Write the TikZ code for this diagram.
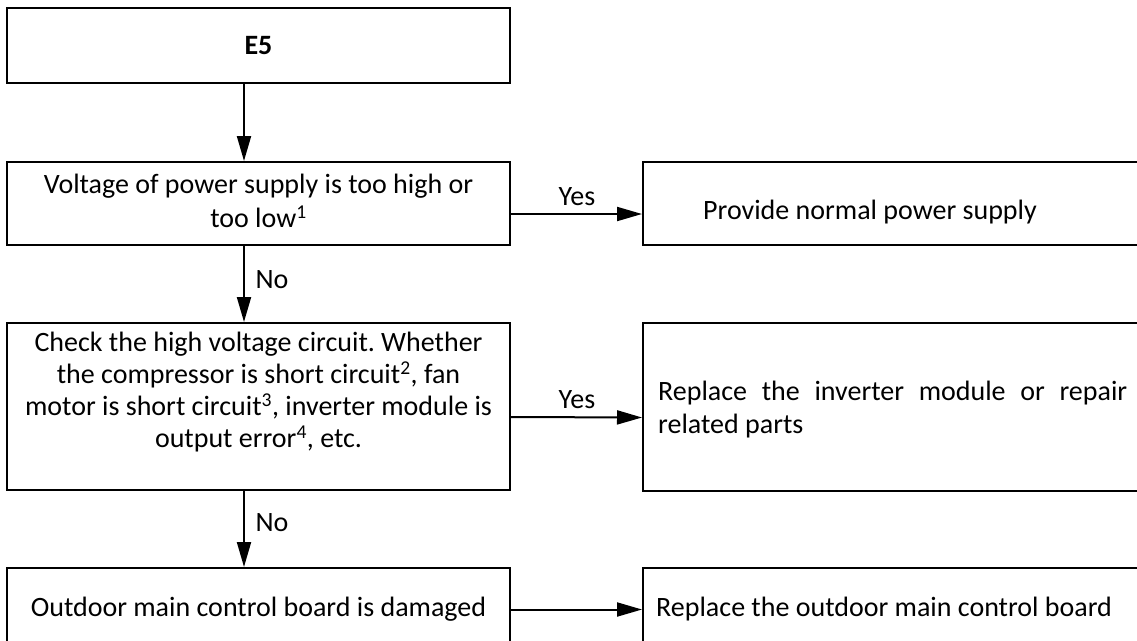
\documentclass[tikz,border=0pt]{standalone}
\usepackage{fontspec}
\setmainfont{Carlito}
\usetikzlibrary{arrows.meta}
\frenchspacing
\begin{document}
\begin{tikzpicture}[x=1pt,y=-1pt,
  box/.style={draw, line width=2pt, inner sep=0pt, align=center,
    font=\fontsize{28}{32}\selectfont},
  lbox/.style={box, minimum width=503pt},
  rbox/.style={draw, line width=2pt, inner sep=0pt, minimum width=507pt},
  txt/.style={inner sep=0pt, font=\fontsize{28}{33}\selectfont},
  ctxt/.style={txt, align=center},
  arr/.style={line width=2pt, -{Triangle[length=25pt,width=14pt]}},
  lbl/.style={inner sep=0pt, font=\fontsize{28}{30}\selectfont}]
\useasboundingbox (0,0) rectangle (1137,640);
\clip (0,0) rectangle (1137,640);
% left column
\node[lbox, minimum height=75pt, font=\fontsize{28}{32}\selectfont\bfseries] (e5) at (258.5,45.5) {E5};
\node[lbox, minimum height=83pt] (b2) at (258.5,203.5) {};
\node[lbox, minimum height=167pt] (b3) at (258.5,406.5) {};
\node[lbox, minimum height=83pt] (b4) at (258.5,609.5)
  {Outdoor main control board is damaged};
\node[ctxt, font=\fontsize{28}{34}\selectfont\frenchspacing] (b2t) at (258.5,201)
  {Voltage of power supply is too high or\\too low\textsuperscript{1}};
\node[ctxt, font=\fontsize{28}{32}\selectfont\frenchspacing] (b3t) at (258.5,392)
  {Check the high voltage circuit. Whether\\the compressor is short circuit\textsuperscript{2}, fan\\motor is short circuit\textsuperscript{3}, inverter module is\\output error\textsuperscript{4}, etc.};
% right column
\node[rbox, minimum height=83pt] (r1) at (896.5,203.5) {};
\node[rbox, minimum height=168pt] (r2) at (896.5,407) {};
\node[rbox, minimum height=83pt] (r3) at (896.5,609.5) {};
\node[txt] (r1t) at (870,212) {Provide normal power supply};
\node[txt, anchor=west, text width=469pt, align=justify] (r2t) at (658,410)
  {Replace the inverter module or repair\linebreak related parts};
\node[txt, anchor=west] (r3t) at (656,609.5) {Replace the outdoor main control board};
% connectors
\draw[arr] ([xshift=-14.5pt]e5.south) -- ([xshift=-14.5pt]b2.north);
\draw[arr] ([xshift=-14.5pt]b2.south) -- ([xshift=-14.5pt]b3.north);
\draw[arr] ([xshift=-14.5pt]b3.south) -- ([xshift=-14.5pt]b4.north);
\draw[arr] ([yshift=-10.5pt]b2.east) -- ([yshift=-10.5pt]r1.west);
\draw[arr] ([yshift=-10.5pt]b3.east) -- ([yshift=-10.5pt]r2.west);
\draw[arr] (b4.east) -- (r3.west);
% labels
\node[lbl] (y1) at (577,197) {Yes};
\node[lbl] (y2) at (577,400) {Yes};
\node[lbl] (n1) at (272,280) {No};
\node[lbl] (n2) at (272,523) {No};
\end{tikzpicture}
\end{document}
